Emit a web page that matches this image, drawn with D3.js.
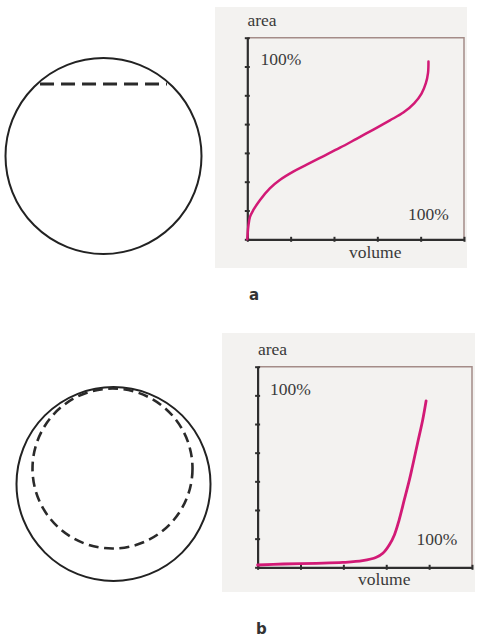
<!DOCTYPE html>
<html>
<head>
<meta charset="utf-8">
<script src="https://cdn.jsdelivr.net/npm/d3@7/dist/d3.min.js"></script>
<style>
  html, body { margin: 0; padding: 0; background: #ffffff; }
  svg { display: block; }
  .lbl { font-family: "Liberation Serif", "Times New Roman", serif; font-size: 17.5px; fill: #3a3a3a; }
  .tag { font-family: "DejaVu Sans", "Noto Sans", sans-serif; font-weight: bold; font-size: 15px; fill: #333; }
</style>
</head>
<body>
<svg id="fig" width="492" height="638"></svg>
<script>
// Axis grid: both axes are marked in equal steps (no numeric tick labels)
const xTicks = [0, 1, 2, 3, 4, 5];
const yTicks = [0, 1, 2, 3, 4, 5, 6, 7];

// (a) drop whose surface is cut by a flat level: area grows fast, then linearly, then steeply
const volumeA = [0, 0.023, 0.062, 0.14, 0.29, 0.52, 0.75, 1.06, 1.37, 1.75, 2.14, 2.52, 2.91, 3.29, 3.6, 3.85, 4.02, 4.12, 4.17, 4.18];
const areaA   = [0, 0.44, 0.78, 1.02, 1.36, 1.77, 2.06, 2.35, 2.59, 2.88, 3.18, 3.49, 3.81, 4.13, 4.40, 4.72, 5.06, 5.42, 5.78, 6.17];

// (b) inner dashed sphere growing inside the outer one: area stays flat, then rises sharply
const volumeB = [0, 0.6, 1.37, 1.99, 2.45, 2.77, 2.92, 3.07, 3.19, 3.30, 3.42, 3.54, 3.61, 3.73, 3.85, 3.93];
const areaB   = [0.08, 0.115, 0.14, 0.17, 0.23, 0.35, 0.49, 0.78, 1.13, 1.65, 2.35, 3.05, 3.51, 4.33, 5.14, 5.81];

const labels = { yTitle: "area", xTitle: "volume", full: "100%" };
const panelTags = ["a", "b"];

const svg = d3.select("#fig");
const curveColor = "#d21a76";

function drawPanel(cfg) {
  const g = svg.append("g");
  // panel background
  g.append("rect")
    .attr("x", cfg.bg[0]).attr("y", cfg.bg[1])
    .attr("width", cfg.bg[2] - cfg.bg[0]).attr("height", cfg.bg[3] - cfg.bg[1])
    .attr("fill", "#f3f2f0");

  const x = d3.scaleLinear().domain([0, 5]).range([cfg.left, cfg.right]);
  const y = d3.scaleLinear().domain([0, 7]).range([cfg.bottom, cfg.top]);

  // top and right frame
  g.append("path")
    .attr("d", `M${x(0)},${y(7)}H${x(5)}V${y(0)}`)
    .attr("fill", "none").attr("stroke", "#a48c88").attr("stroke-width", 1.5);

  // axes with ticks crossing the axis line
  const ax = g.append("g").attr("transform", `translate(0,${y(0)})`)
    .call(d3.axisBottom(x).tickValues(xTicks).tickFormat("").tickSizeOuter(0));
  ax.selectAll(".tick line").attr("y1", -2.5).attr("y2", 2.5);
  const ay = g.append("g").attr("transform", `translate(${x(0)},0)`)
    .call(d3.axisLeft(y).tickValues(yTicks).tickFormat("").tickSizeOuter(0));
  ay.selectAll(".tick line").attr("x1", -2.5).attr("x2", 2.5);
  [ax, ay].forEach(a => {
    a.select(".domain").attr("stroke", "#2e2e2e").attr("stroke-width", 2.2);
    a.selectAll(".tick line").attr("stroke", "#2e2e2e").attr("stroke-width", 2);
  });

  // curve
  const pts = cfg.vol.map((v, i) => [v, cfg.area[i]]);
  g.append("path")
    .datum(pts)
    .attr("d", d3.line().x(d => x(d[0])).y(d => y(d[1])).curve(d3.curveCatmullRom.alpha(0.5)))
    .attr("fill", "none").attr("stroke", curveColor).attr("stroke-width", cfg.lw)
    .attr("stroke-linecap", "round");

  // texts
  g.append("text").attr("class", "lbl").attr("x", cfg.areaPos[0]).attr("y", cfg.areaPos[1]).text(labels.yTitle);
  g.append("text").attr("class", "lbl").attr("x", cfg.topPct[0]).attr("y", cfg.topPct[1]).text(labels.full);
  g.append("text").attr("class", "lbl").attr("x", cfg.botPct[0]).attr("y", cfg.botPct[1]).text(labels.full);
  g.append("text").attr("class", "lbl").attr("x", cfg.volPos[0]).attr("y", cfg.volPos[1]).text(labels.xTitle);
  svg.append("text").attr("class", "tag").attr("x", cfg.tag[0]).attr("y", cfg.tag[1]).text(cfg.tagText);
}

drawPanel({
  bg: [215, 7, 467, 268], left: 247.3, right: 464, top: 37.7, bottom: 239.3,
  vol: volumeA, area: areaA, lw: 2.5,
  areaPos: [247.5, 26], topPct: [260.5, 65], botPct: [408, 220], volPos: [349, 258],
  tag: [249, 300], tagText: panelTags[0]
});

drawPanel({
  bg: [222, 333, 475, 592], left: 257.6, right: 472, top: 366.7, bottom: 567.3,
  vol: volumeB, area: areaB, lw: 2.8,
  areaPos: [258, 355], topPct: [270, 395], botPct: [416.5, 545], volPos: [358, 585],
  tag: [256, 634], tagText: panelTags[1]
});

// schematic drops
const outerA = { cx: 103.5, cy: 156, r: 98 };
const levelY = 84;
svg.append("circle").attr("cx", outerA.cx).attr("cy", outerA.cy).attr("r", outerA.r)
  .attr("fill", "none").attr("stroke", "#222").attr("stroke-width", 2);
const half = Math.sqrt(outerA.r * outerA.r - (outerA.cy - levelY) ** 2);
svg.append("line")
  .attr("x1", outerA.cx - half + 3).attr("x2", outerA.cx + half - 3)
  .attr("y1", levelY).attr("y2", levelY)
  .attr("stroke", "#2a2a2a").attr("stroke-width", 3).attr("stroke-dasharray", "14 7");

const outerB = { cx: 113.5, cy: 484, r: 97 };
const innerB = { cx: 112.5, cy: 468.5, r: 80 };
svg.append("circle").attr("cx", outerB.cx).attr("cy", outerB.cy).attr("r", outerB.r)
  .attr("fill", "none").attr("stroke", "#222").attr("stroke-width", 2);
svg.append("circle").attr("cx", innerB.cx).attr("cy", innerB.cy).attr("r", innerB.r)
  .attr("fill", "none").attr("stroke", "#2a2a2a").attr("stroke-width", 2.6)
  .attr("stroke-dasharray", "10 5.5");
</script>
</body>
</html>
